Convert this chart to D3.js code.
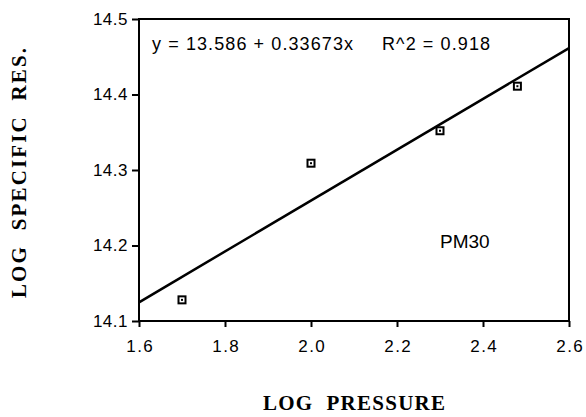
<!DOCTYPE html>
<html><head><meta charset="utf-8">
<script src="https://cdn.jsdelivr.net/npm/d3@7"></script>
<style>body{margin:0;background:#fff}</style>
</head><body>
<svg id="c" width="586" height="417"></svg>
<script>
const pressure = [1.7, 2.0, 2.3, 2.48];
const specRes = [14.128, 14.309, 14.352, 14.411];
const xTicks = [1.6, 1.8, 2.0, 2.2, 2.4, 2.6];
const yTicks = [14.1, 14.2, 14.3, 14.4, 14.5];
const intercept = 13.586, slope = 0.33673;

const sans = "Liberation Sans, Arial, sans-serif";
const serif = "Liberation Serif, Times New Roman, serif";
const svg = d3.select("#c");
const x = d3.scaleLinear().domain([1.6, 2.6]).range([139, 569]);
const y = d3.scaleLinear().domain([14.1, 14.5]).range([321, 19]);

const g = svg.append("g");
g.append("rect").attr("x", x(1.6)).attr("y", y(14.5)).attr("width", x(2.6)-x(1.6)).attr("height", y(14.1)-y(14.5))
  .attr("fill","none").attr("stroke","#000").attr("stroke-width",2);

const xa = svg.append("g").attr("transform",`translate(0,${y(14.1)})`)
  .call(d3.axisBottom(x).tickValues(xTicks).tickFormat(d3.format(".1f")).tickSize(6));
const ya = svg.append("g").attr("transform",`translate(${x(1.6)},0)`)
  .call(d3.axisLeft(y).tickValues(yTicks).tickFormat(d3.format(".1f")).tickSize(7).tickPadding(4));
[xa, ya].forEach(a => {
  a.select(".domain").remove();
  a.selectAll(".tick line").attr("stroke","#000").attr("stroke-width",2);
  a.selectAll(".tick text").attr("fill","#000").style("font-family",sans).style("font-size","17px");
});
xa.selectAll(".tick text").attr("y",31).attr("dy",0).style("letter-spacing","1.5px").attr("dx","0.75px");
ya.selectAll(".tick text").style("letter-spacing","0.5px");

g.append("line").attr("x1", x(1.6)).attr("y1", y(intercept + slope*1.6))
  .attr("x2", x(2.6)).attr("y2", y(intercept + slope*2.6))
  .attr("stroke","#000").attr("stroke-width",2.5);

const pts = pressure.map((p,i)=>[p, specRes[i]]);
const m = g.selectAll(".m").data(pts).enter().append("g").attr("transform", d=>`translate(${x(d[0])},${y(d[1])})`);
m.append("rect").attr("x",-4.5).attr("y",-4.5).attr("width",9).attr("height",9).attr("fill","#000");
m.append("rect").attr("x",-2.5).attr("y",-2.5).attr("width",5).attr("height",5).attr("fill","#fff");
m.append("rect").attr("x",-1).attr("y",-1).attr("width",2).attr("height",2).attr("fill","#000");

svg.append("text").attr("x",152).attr("y",50).attr("textLength",201).attr("lengthAdjust","spacing")
  .style("font-family",sans).style("font-size","18px").attr("xml:space","preserve")
  .text("y = 13.586 + 0.33673x");
svg.append("text").attr("x",382).attr("y",50).attr("textLength",108).attr("lengthAdjust","spacing")
  .style("font-family",sans).style("font-size","18px").attr("xml:space","preserve")
  .text("R^2 = 0.918");
svg.append("text").attr("x",440).attr("y",248)
  .style("font-family",sans).style("font-size","19px")
  .text("PM30");

svg.append("text").attr("x",263).attr("y",410).attr("textLength",182).attr("lengthAdjust","spacing")
  .style("font-family",serif).style("font-size","21px").style("font-weight","bold").attr("xml:space","preserve")
  .text("LOG  PRESSURE");
svg.append("text").attr("transform","translate(26,298) rotate(-90)").attr("textLength",250).attr("lengthAdjust","spacing")
  .style("font-family",serif).style("font-size","21px").style("font-weight","bold").attr("xml:space","preserve")
  .text("LOG  SPECIFIC  RES.");
</script>
</body></html>
